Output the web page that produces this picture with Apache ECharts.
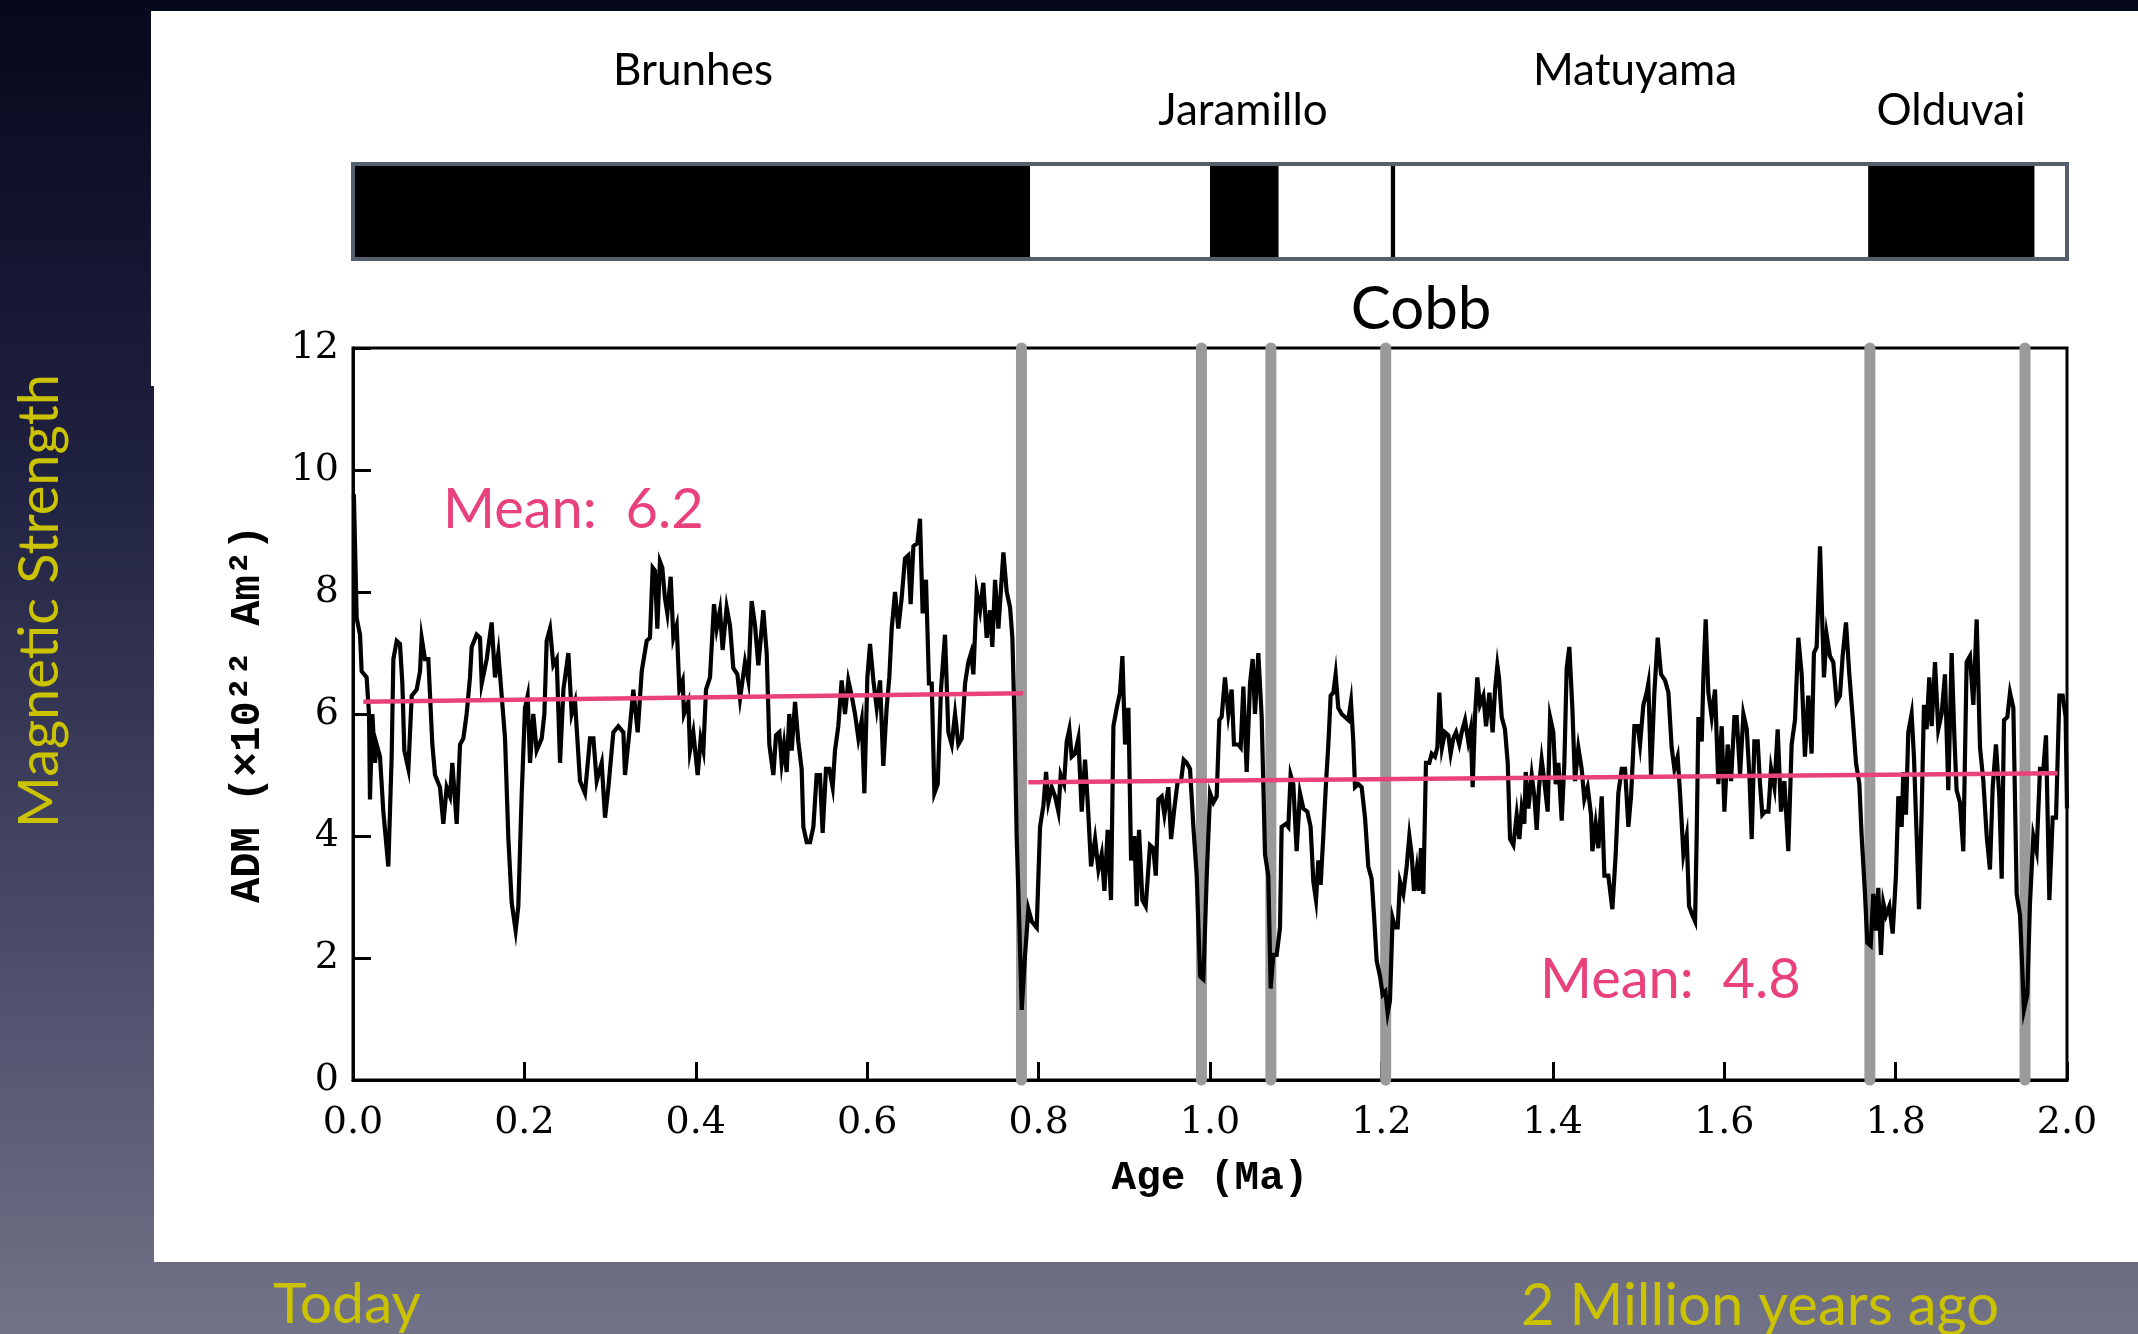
<!DOCTYPE html>
<html><head><meta charset="utf-8">
<script src="https://cdn.jsdelivr.net/npm/echarts/dist/echarts.min.js"></script>
<style>html,body{margin:0;padding:0;background:#000;overflow:hidden}#c{width:2138px;height:1334px}</style>
</head><body><div id="c"></div>
<script>
// ---------- data ----------
const yTickValues = [0, 2, 4, 6, 8, 10, 12];
const xTickLabels = ['0.0','0.2','0.4','0.6','0.8','1.0','1.2','1.4','1.6','1.8','2.0'];
const chronNames = ['Brunhes', 'Jaramillo', 'Matuyama', 'Olduvai'];
const normalChrons = [[0, 0.79], [1.0, 1.08], [1.211, 1.216], [1.768, 1.962]];
const excursionAges = [0.780, 0.990, 1.071, 1.205, 1.770, 1.951];
const meanBrunhes = [[0.012, 6.2], [0.782, 6.34]];
const meanMatuyama = [[0.788, 4.88], [1.989, 5.03]];
const meanTexts = ['Mean:  6.2', 'Mean:  4.8'];
const plotTitle = 'Cobb';
const sideTexts = ['Magnetic Strength', 'Today', '2 Million years ago'];

// [age (Ma), ADM (1e22 Am^2)]
const admPart1 = [[0.001,9.6],[0.002,9.58],[0.0043,7.57],[0.0082,7.3],[0.0101,6.7],[0.0159,6.6],[0.0187,6.0],[0.0198,4.6],[0.0226,6.0],[0.0257,5.2],[0.0276,5.5],[0.0315,5.3],[0.0354,4.4],[0.0412,3.5],[0.0451,5.3],[0.0471,6.9],[0.0510,7.2],[0.0548,7.15],[0.0576,6.5],[0.0599,5.4],[0.0646,5.1],[0.0685,6.3],[0.0743,6.4],[0.0782,6.7],[0.0801,7.25],[0.0840,6.9],[0.0879,6.9],[0.0926,5.5],[0.0957,5.0],[0.1015,4.8],[0.1054,4.2],[0.1093,4.8],[0.1132,4.65],[0.1159,5.2],[0.1210,4.2],[0.1249,5.5],[0.1288,5.6],[0.1326,6.0],[0.1365,6.6],[0.1385,7.1],[0.1443,7.3],[0.1482,7.25],[0.1502,6.5],[0.1560,6.9],[0.1618,7.5],[0.1657,6.6],[0.1696,7.0],[0.1735,6.3],[0.1774,5.6],[0.1813,3.95],[0.1852,2.9],[0.1898,2.45],[0.1929,2.85],[0.1968,4.66],[0.2007,6.1],[0.2038,6.3],[0.2066,5.2],[0.2104,6.0],[0.2143,5.4],[0.2202,5.6],[0.2233,6.0],[0.2260,7.2],[0.2299,7.4],[0.2338,6.8],[0.2377,6.9],[0.2416,5.2],[0.2455,6.4],[0.2513,7.0],[0.2552,6.0],[0.2591,6.2],[0.2649,4.9],[0.2707,4.7],[0.2766,5.6],[0.2805,5.6],[0.2844,4.9],[0.2902,5.2],[0.2941,4.3],[0.2980,4.8],[0.3038,5.7],[0.3096,5.8],[0.3155,5.7],[0.3174,5.0],[0.3232,5.8],[0.3271,6.4],[0.3322,5.7],[0.3369,6.7]];
const admPart2 = [[0.3427,7.2],[0.3465,7.25],[0.3497,8.4],[0.3524,8.35],[0.3551,7.4],[0.3582,8.5],[0.3609,8.4],[0.3640,7.9],[0.3668,7.65],[0.3707,8.25],[0.3738,7.25],[0.3777,7.45],[0.3808,6.4],[0.3847,6.55],[0.3862,6.0],[0.3913,6.2],[0.3932,5.4],[0.3971,5.7],[0.4022,5.0],[0.4057,5.6],[0.4088,5.4],[0.4119,6.4],[0.4166,6.6],[0.4212,7.8],[0.4243,7.4],[0.4282,7.7],[0.4313,7.05],[0.4360,7.75],[0.4399,7.45],[0.4438,6.75],[0.4485,6.65],[0.4516,6.25],[0.4574,6.85],[0.4613,6.55],[0.4652,7.85],[0.4691,7.45],[0.4730,6.8],[0.4788,7.7],[0.4827,7.0],[0.4858,5.5],[0.4905,5.0],[0.4936,5.65],[0.4975,5.7],[0.5002,5.2],[0.5029,5.5],[0.5060,5.05],[0.5091,6.0],[0.5119,5.4],[0.5158,6.2],[0.5196,5.55],[0.5235,5.1],[0.5255,4.15],[0.5294,3.9],[0.5333,3.9],[0.5372,4.15],[0.5410,5.0],[0.5449,5.0],[0.5480,4.05],[0.5519,5.1],[0.5558,5.1],[0.5597,4.8],[0.5624,5.4],[0.5663,5.8],[0.5702,6.55],[0.5741,6.0],[0.5780,6.55],[0.5819,6.3],[0.5858,6.0],[0.5897,5.6],[0.5936,5.9],[0.5967,4.7],[0.6002,6.6],[0.6033,7.15],[0.6072,6.55],[0.6111,6.1],[0.6150,6.55],[0.6188,5.15],[0.6227,6.1],[0.6258,6.6],[0.6286,7.4],[0.6325,8.0],[0.6363,7.4],[0.6402,7.9],[0.6441,8.55],[0.6480,8.6],[0.6507,7.8],[0.6539,8.75],[0.6585,8.8],[0.6616,9.2],[0.6647,7.65],[0.6686,8.2],[0.6721,6.5]];
const admPart3 = [[0.6753,6.5],[0.6784,4.7],[0.6823,4.85],[0.6861,6.4],[0.6908,7.3],[0.6947,5.7],[0.6986,5.5],[0.7025,6.0],[0.7064,5.5],[0.7103,5.6],[0.7142,6.5],[0.7180,6.85],[0.7212,7.0],[0.7239,6.65],[0.7278,8.0],[0.7317,7.7],[0.7355,8.15],[0.7394,7.25],[0.7433,7.7],[0.7460,7.1],[0.7492,8.2],[0.7531,7.4],[0.7589,8.65],[0.7628,8.0],[0.7667,7.75],[0.7694,7.25],[0.7717,6.0],[0.7744,4.0],[0.7772,2.7],[0.7803,1.15],[0.7842,2.05],[0.7881,2.8],[0.7920,2.6],[0.7978,2.5],[0.8017,4.15],[0.8056,4.5],[0.8087,5.05],[0.8114,4.55],[0.8153,4.8],[0.8192,4.65],[0.8231,4.4],[0.8258,5.0],[0.8297,4.85],[0.8328,5.55],[0.8359,5.75],[0.8386,5.3],[0.8425,5.35],[0.8464,5.6],[0.8503,4.4],[0.8542,5.25],[0.8573,4.55],[0.8612,3.5],[0.8659,3.95],[0.8698,3.45],[0.8736,3.7],[0.8768,3.1],[0.8806,4.1],[0.8845,2.95],[0.8873,5.8],[0.8912,6.1],[0.8950,6.35],[0.8978,6.95],[0.9009,5.5],[0.9048,6.1],[0.9079,3.6],[0.9118,4.0],[0.9145,2.85],[0.9172,4.1],[0.9211,2.95],[0.9250,2.85],[0.9300,3.85],[0.9339,3.8],[0.9367,3.35],[0.9398,4.6],[0.9437,4.65],[0.9468,4.35],[0.9514,4.8],[0.9546,3.95],[0.9584,4.45],[0.9623,4.9],[0.9662,4.9],[0.9693,5.25],[0.9728,5.2],[0.9767,5.1],[0.9806,4.15],[0.9845,3.35],[0.9884,1.7],[0.9923,1.65],[0.9962,3.35],[1.0001,4.7],[1.0040,4.55]];
const admPart4 = [[1.0078,4.65],[1.0109,5.9],[1.0136,5.95],[1.0175,6.6],[1.0214,6.0],[1.0253,6.4],[1.0280,5.5],[1.0330,5.5],[1.0358,5.45],[1.0389,6.45],[1.0428,5.05],[1.0467,6.5],[1.0498,6.9],[1.0525,6.0],[1.0564,7.0],[1.0603,5.95],[1.0642,3.7],[1.0680,3.35],[1.0708,1.5],[1.0739,2.05],[1.0778,2.05],[1.0817,2.5],[1.0836,4.15],[1.0887,4.2],[1.0914,4.15],[1.0941,5.0],[1.0972,4.85],[1.1011,3.75],[1.1050,4.7],[1.1089,4.45],[1.1136,4.4],[1.1174,4.15],[1.1206,3.25],[1.1237,2.95],[1.1264,3.6],[1.1291,3.2],[1.1322,4.0],[1.1353,4.85],[1.1381,5.5],[1.1408,6.3],[1.1439,6.35],[1.1466,6.65],[1.1497,6.1],[1.1536,6.0],[1.1575,5.95],[1.1614,5.9],[1.1645,6.2],[1.1672,5.55],[1.1692,4.8],[1.1731,4.85],[1.1770,4.8],[1.1809,4.3],[1.1847,3.5],[1.1886,3.3],[1.1914,2.7],[1.1945,1.95],[1.1984,1.7],[1.2015,1.4],[1.2046,1.45],[1.2073,1.1],[1.2100,1.3],[1.2131,2.65],[1.2159,2.5],[1.2190,2.5],[1.2217,3.25],[1.2256,3.05],[1.2295,3.5],[1.2326,4.0],[1.2353,3.7],[1.2380,3.1],[1.2412,3.45],[1.2435,3.1],[1.2462,3.8],[1.2489,3.05],[1.2520,5.2],[1.2559,5.2],[1.2587,5.35],[1.2625,5.3],[1.2653,5.45],[1.2676,6.35],[1.2707,5.45],[1.2742,5.7],[1.2781,5.65],[1.2808,5.35],[1.2839,5.6],[1.2871,5.7],[1.2909,5.5],[1.2937,5.7],[1.2976,5.9],[1.3014,5.55],[1.3042,5.75],[1.3065,4.8],[1.3092,5.95],[1.3119,6.6],[1.3150,6.15],[1.3190,6.3],[1.3221,5.8],[1.3260,6.35],[1.3298,5.7],[1.3326,6.4],[1.3353,6.8]];
const admPart5 = [[1.3372,6.6],[1.3404,5.95],[1.3442,5.75],[1.3474,5.2],[1.3501,3.95],[1.3540,3.85],[1.3579,4.35],[1.3610,3.95],[1.3637,4.45],[1.3668,4.2],[1.3684,5.05],[1.3715,4.45],[1.3754,5.0],[1.3785,4.65],[1.3812,4.1],[1.3839,4.8],[1.3870,5.25],[1.3901,4.9],[1.3940,4.4],[1.3968,5.95],[1.4006,5.7],[1.4034,4.85],[1.4065,5.2],[1.4104,4.25],[1.4135,5.2],[1.4162,6.75],[1.4193,7.1],[1.4228,6.1],[1.4259,4.9],[1.4298,5.45],[1.4337,5.1],[1.4368,4.6],[1.4407,4.8],[1.4446,4.35],[1.4462,3.75],[1.4500,4.2],[1.4532,3.8],[1.4571,4.65],[1.4602,3.35],[1.4648,3.35],[1.4695,2.8],[1.4734,3.7],[1.4765,4.7],[1.4804,5.1],[1.4843,5.1],[1.4882,4.15],[1.4913,4.65],[1.4952,5.8],[1.4991,5.8],[1.5018,5.5],[1.5057,6.15],[1.5096,6.35],[1.5115,6.5],[1.5146,5.0],[1.5185,6.35],[1.5224,7.25],[1.5263,6.65],[1.5310,6.55],[1.5349,6.35],[1.5387,5.45],[1.5419,5.1],[1.5457,5.3],[1.5485,4.7],[1.5524,3.7],[1.5562,4.0],[1.5590,2.85],[1.5629,2.7],[1.5660,2.6],[1.5679,4.0],[1.5699,5.95],[1.5738,5.55],[1.5757,6.6],[1.5784,7.55],[1.5815,6.35],[1.5854,5.95],[1.5893,6.4],[1.5932,4.85],[1.5971,5.8],[1.6002,4.4],[1.6041,5.5],[1.6080,4.9],[1.6119,5.95],[1.6146,5.95],[1.6185,5.0],[1.6224,6.0],[1.6263,5.75],[1.6294,5.0],[1.6321,3.95],[1.6352,5.55],[1.6391,5.55],[1.6418,4.85],[1.6445,4.35],[1.6477,4.4],[1.6516,4.4],[1.6547,5.1],[1.6586,4.8],[1.6624,5.75],[1.6663,4.4],[1.6702,4.9]];
const admPart6 = [[1.6748,3.75],[1.6787,5.5],[1.6826,5.9],[1.6865,7.25],[1.6904,6.65],[1.6942,5.3],[1.6981,6.3],[1.7020,5.35],[1.7047,7.0],[1.7079,7.1],[1.7118,8.75],[1.7164,6.6],[1.7195,7.3],[1.7234,6.95],[1.7273,6.85],[1.7312,6.2],[1.7351,6.3],[1.7382,6.95],[1.7421,7.5],[1.7460,6.65],[1.7499,5.95],[1.7538,5.2],[1.7577,4.85],[1.7604,4.0],[1.7643,3.05],[1.7670,2.25],[1.7709,2.2],[1.7740,3.05],[1.7771,2.45],[1.7798,3.15],[1.7829,2.05],[1.7857,2.9],[1.7888,2.7],[1.7927,2.85],[1.7966,2.4],[1.8004,3.35],[1.8032,4.65],[1.8071,4.15],[1.8090,5.05],[1.8121,4.35],[1.8148,5.7],[1.8187,6.0],[1.8214,5.3],[1.8246,4.0],[1.8273,2.8],[1.8304,4.4],[1.8331,6.15],[1.8362,5.75],[1.8393,6.6],[1.8421,5.8],[1.8460,6.85],[1.8498,5.75],[1.8537,6.0],[1.8576,6.65],[1.8615,4.75],[1.8654,7.0],[1.8685,5.65],[1.8712,4.75],[1.8751,4.55],[1.8790,3.75],[1.8829,6.85],[1.8868,6.95],[1.8907,6.15],[1.8946,7.55],[1.8985,5.45],[1.9024,4.9],[1.9063,4.0],[1.9101,3.45],[1.9133,4.8],[1.9171,5.5],[1.9210,4.65],[1.9238,3.3],[1.9265,5.9],[1.9304,5.95],[1.9335,6.35],[1.9374,6.1],[1.9413,3.05],[1.9452,2.7],[1.9498,1.15],[1.9537,1.4],[1.9568,2.9],[1.9607,4.0],[1.9646,3.75],[1.9685,5.1],[1.9724,5.1],[1.9755,5.65],[1.9794,2.95],[1.9833,4.3],[1.9872,4.3],[1.9911,6.3],[1.9949,6.3],[1.9984,5.95],[2.0,4.45]];
const admSeries = [].concat(admPart1, admPart2, admPart3, admPart4, admPart5, admPart6);

// ---------- chart ----------
const chart = echarts.init(document.getElementById('c'), null, {renderer: 'canvas'});
const PINK = '#e8417c';
const YEL = '#cbc300';
const labelFont = 'Lato, "Open Sans", sans-serif';

const option = {
  animation: false,
  backgroundColor: 'transparent',
  grid: [
    {left: 353, top: 348, width: 1714, height: 732, show: true, borderColor: '#000', borderWidth: 3, z: 1},
    {left: 353, top: 164, width: 1714, height: 95, show: true, borderColor: '#56606c', borderWidth: 4, z: 5}
  ],
  xAxis: [
    {type: 'value', gridIndex: 0, min: 0, max: 2, interval: 0.2,
     name: 'Age (Ma)', nameLocation: 'middle', nameGap: 78,
     nameTextStyle: {fontFamily: '"Liberation Mono", monospace', fontWeight: 'bold', fontSize: 41, color: '#000'},
     axisLine: {show: true, onZero: false, lineStyle: {color: '#000', width: 3}},
     axisTick: {show: true, inside: true, length: 18, lineStyle: {color: '#000', width: 3}},
     axisLabel: {margin: 24, fontFamily: '"DejaVu Serif", serif', fontWeight: 500, fontSize: 38, color: '#000',
       formatter: v => xTickLabels[Math.round(v / 0.2)] || ''},
     splitLine: {show: false}},
    {type: 'value', gridIndex: 1, min: 0, max: 2, show: false}
  ],
  yAxis: [
    {type: 'value', gridIndex: 0, min: 0, max: 12, interval: 2,
     name: 'ADM (\u00d710\u00b2\u00b2 Am\u00b2)', nameLocation: 'middle', nameGap: 84,
     nameTextStyle: {fontFamily: '"Liberation Mono", monospace', fontWeight: 'bold', fontSize: 42, color: '#000'},
     axisLine: {show: true, lineStyle: {color: '#000', width: 3}},
     axisTick: {show: true, inside: true, length: 18, lineStyle: {color: '#000', width: 3}},
     axisLabel: {margin: 14, fontFamily: '"DejaVu Serif", serif', fontSize: 38, color: '#000',
       formatter: v => (yTickValues.indexOf(v) >= 0 ? String(v) : '')},
     splitLine: {show: false}},
    {type: 'value', gridIndex: 1, min: 0, max: 1, show: false}
  ],
  graphic: [
    {type: 'rect', z: -20, shape: {x: 0, y: 0, width: 2138, height: 1334},
     style: {fill: new echarts.graphic.LinearGradient(0, 0, 0, 1, [
       {offset: 0, color: '#06081c'}, {offset: 0.35, color: '#1f2140'},
       {offset: 0.7, color: '#4a4b68'}, {offset: 1, color: '#727387'}])}},
    {type: 'rect', z: -19, shape: {x: 151, y: 11, width: 1987, height: 375}, style: {fill: '#fff'}},
    {type: 'rect', z: -19, shape: {x: 154, y: 380, width: 1984, height: 882}, style: {fill: '#fff'}},
    {type: 'text', z: 50, x: 693, y: 71, style: {text: chronNames[0], font: '44px ' + labelFont, fill: '#000', textAlign: 'center', textVerticalAlign: 'middle'}},
    {type: 'text', z: 50, x: 1243, y: 111, style: {text: chronNames[1], font: '44px ' + labelFont, fill: '#000', textAlign: 'center', textVerticalAlign: 'middle'}},
    {type: 'text', z: 50, x: 1635, y: 71, style: {text: chronNames[2], font: '44px ' + labelFont, fill: '#000', textAlign: 'center', textVerticalAlign: 'middle'}},
    {type: 'text', z: 50, x: 1951, y: 111, style: {text: chronNames[3], font: '44px ' + labelFont, fill: '#000', textAlign: 'center', textVerticalAlign: 'middle'}},
    {type: 'text', z: 50, x: 1421, y: 310, style: {text: plotTitle, font: '60px ' + labelFont, fill: '#000', textAlign: 'center', textVerticalAlign: 'middle'}},
    {type: 'text', z: 50, x: 443, y: 510, style: {text: meanTexts[0], font: '56px ' + labelFont, fill: PINK, textAlign: 'left', textVerticalAlign: 'middle'}},
    {type: 'text', z: 50, x: 1540, y: 980, style: {text: meanTexts[1], font: '56px ' + labelFont, fill: PINK, textAlign: 'left', textVerticalAlign: 'middle'}},
    {type: 'text', z: 50, x: 40, y: 601, rotation: Math.PI / 2, style: {text: sideTexts[0], font: '56px ' + labelFont, fill: YEL, textAlign: 'center', textVerticalAlign: 'middle'}},
    {type: 'text', z: 50, x: 273, y: 1305, style: {text: sideTexts[1], font: '57px ' + labelFont, fill: YEL, textAlign: 'left', textVerticalAlign: 'middle'}},
    {type: 'text', z: 50, x: 1521, y: 1306, style: {text: sideTexts[2], font: '58px ' + labelFont, fill: YEL, textAlign: 'left', textVerticalAlign: 'middle'}}
  ],
  series: [
    {type: 'custom', xAxisIndex: 0, yAxisIndex: 0, z: 2, clip: false,
     data: excursionAges.map(a => [a]),
     renderItem: (params, api) => {
       const p0 = api.coord([api.value(0), 0]);
       const p1 = api.coord([api.value(0), 12]);
       return {type: 'line', shape: {x1: p0[0], y1: p0[1], x2: p1[0], y2: p1[1]},
         style: {stroke: '#9a9a9a', lineWidth: 11, lineCap: 'round'}};
     }},
    {type: 'line', xAxisIndex: 0, yAxisIndex: 0, z: 3, data: admSeries, showSymbol: false, symbol: 'none',
     lineStyle: {color: '#000', width: 4.2, join: 'miter'}},
    {type: 'line', xAxisIndex: 0, yAxisIndex: 0, z: 4, data: meanBrunhes, showSymbol: false, symbol: 'none',
     lineStyle: {color: PINK, width: 4.5}},
    {type: 'line', xAxisIndex: 0, yAxisIndex: 0, z: 4, data: meanMatuyama, showSymbol: false, symbol: 'none',
     lineStyle: {color: PINK, width: 4.5}},
    {type: 'custom', xAxisIndex: 1, yAxisIndex: 1, z: 3,
     data: normalChrons,
     renderItem: (params, api) => {
       const a = api.coord([api.value(0), 1]);
       const b = api.coord([api.value(1), 0]);
       return {type: 'rect', shape: {x: a[0], y: a[1], width: Math.max(b[0] - a[0], 3), height: b[1] - a[1]},
         style: {fill: '#000'}};
     }}
  ]
};
chart.setOption(option);
</script></body></html>
